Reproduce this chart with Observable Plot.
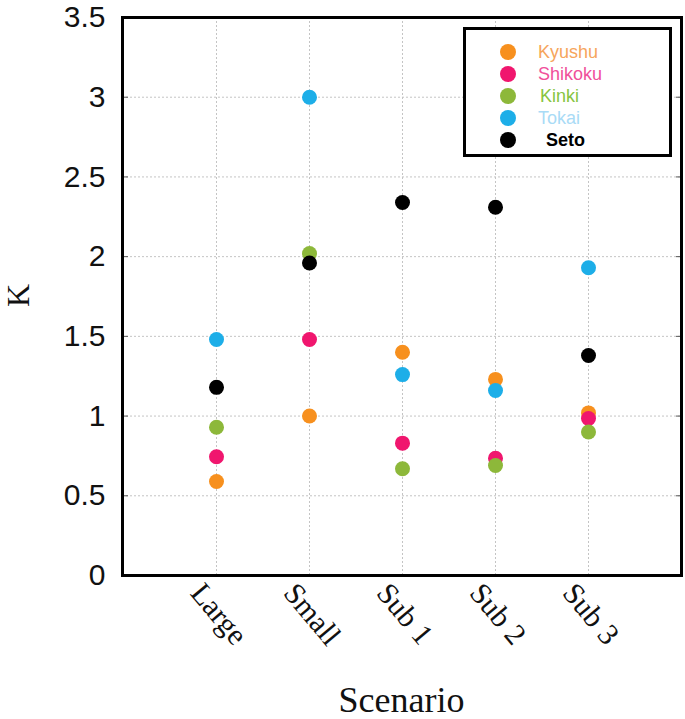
<!DOCTYPE html>
<html>
<head>
<meta charset="utf-8">
<script src="https://cdn.jsdelivr.net/npm/d3@7"></script>
<script src="https://cdn.jsdelivr.net/npm/@observablehq/plot@0.6"></script>
<style>
  html, body { margin: 0; padding: 0; background: #fff; }
  #wrap { position: relative; width: 685px; height: 719px; }
  #legend { position: absolute; left: 463px; top: 27px; width: 203px; height: 124px;
            border: 3px solid #000; background: #fff; font-family: "Liberation Sans", Arial, sans-serif; }
  .sw { position: absolute; left: 34px; width: 16px; height: 16px; border-radius: 50%; }
  .lb { position: absolute; font-size: 18px; line-height: 18px; white-space: nowrap; }
  .axlab { position: absolute; font-family: "Liberation Serif", "Times New Roman", serif; color: #111; white-space: nowrap; }
</style>
</head>
<body>
<div id="wrap"></div>
<script>
const scenarios = ["Large", "Small", "Sub 1", "Sub 2", "Sub 3"];
const regions = ["Kyushu", "Shikoku", "Kinki", "Tokai", "Seto"];
const kyushu  = [0.59, 1.00, 1.40, 1.23, 1.02];
const shikoku = [0.745, 1.48, 0.83, 0.735, 0.985];
const kinki   = [0.93, 2.02, 0.67, 0.69, 0.90];
const tokai   = [1.48, 3.00, 1.26, 1.16, 1.93];
const seto    = [1.18, 1.96, 2.34, 2.31, 1.38];
const yTicks = [0, 0.5, 1, 1.5, 2, 2.5, 3, 3.5];
const dotColors = ["#f7901e", "#f0166e", "#8db83a", "#1daee8", "#000000"];
const labelColors = ["#f6a55c", "#f0509a", "#86c441", "#a9dbf6", "#000000"];

const series = [kyushu, shikoku, kinki, tokai, seto];
const data = [];
regions.forEach((r, i) => scenarios.forEach((s, j) => data.push({region: r, scenario: s, K: series[i][j]})));

const inner = yTicks.slice(1, -1);
const chart = Plot.plot({
  width: 685,
  height: 719,
  marginLeft: 122,
  marginRight: 4,
  marginTop: 17,
  marginBottom: 144,
  x: {type: "point", domain: scenarios, padding: 1},
  y: {domain: [0, 3.5]},
  color: {domain: regions, range: dotColors},
  marks: [
    Plot.gridX({stroke: "#c4c4c4", strokeOpacity: 1, strokeDasharray: "2,2"}),
    Plot.gridY({ticks: inner, stroke: "#c4c4c4", strokeOpacity: 1, strokeDasharray: "2,2"}),
    Plot.axisY({anchor: "left", ticks: inner, tickSize: -6, tickFormat: () => "", label: null, stroke: "#555"}),
    Plot.axisY({anchor: "right", ticks: inner, tickSize: -6, tickFormat: () => "", label: null, stroke: "#555"}),
    Plot.axisY({anchor: "left", ticks: yTicks, tickSize: 0, tickPadding: 17, fontSize: 30, fontFamily: "Liberation Sans, Arial, sans-serif", fill: "#111", label: null, tickFormat: d => String(d)}),
    Plot.axisX({tickSize: 0, tickRotate: 50, fontSize: 30, fontFamily: "Liberation Serif, Times New Roman, serif", fill: "#111", label: null, tickPadding: 12, dx: -20}),
    Plot.dot(data, {x: "scenario", y: "K", fill: "region", r: 7.5, stroke: null}),
    Plot.frame({stroke: "#000", strokeWidth: 3})
  ]
});

const wrap = document.getElementById("wrap");
wrap.appendChild(chart);

const legend = document.createElement("div");
legend.id = "legend";
const rowTops = [13, 35, 57, 79, 101];
const textLeft = [72, 72, 74, 72, 80];
regions.forEach((r, i) => {
  const sw = document.createElement("div");
  sw.className = "sw";
  sw.style.top = (rowTops[i] + 1) + "px";
  sw.style.background = dotColors[i];
  legend.appendChild(sw);
  const lb = document.createElement("div");
  lb.className = "lb";
  lb.style.top = rowTops[i] + "px";
  lb.style.left = textLeft[i] + "px";
  lb.style.color = labelColors[i];
  if (r === "Seto") lb.style.fontWeight = "bold";
  lb.textContent = r;
  legend.appendChild(lb);
});
wrap.appendChild(legend);

const ky = document.createElement("div");
ky.className = "axlab";
ky.style.left = "0px"; ky.style.top = "277px"; ky.style.width = "37px"; ky.style.height = "37px";
ky.style.lineHeight = "37px"; ky.style.textAlign = "center";
ky.style.fontSize = "32px"; ky.style.transform = "rotate(-90deg)";
ky.textContent = "K";
wrap.appendChild(ky);

const sx = document.createElement("div");
sx.className = "axlab";
sx.style.left = "0px"; sx.style.width = "803px"; sx.style.textAlign = "center";
sx.style.top = "680px"; sx.style.fontSize = "36px"; sx.style.lineHeight = "40px";
sx.textContent = "Scenario";
wrap.appendChild(sx);
</script>
</body>
</html>
